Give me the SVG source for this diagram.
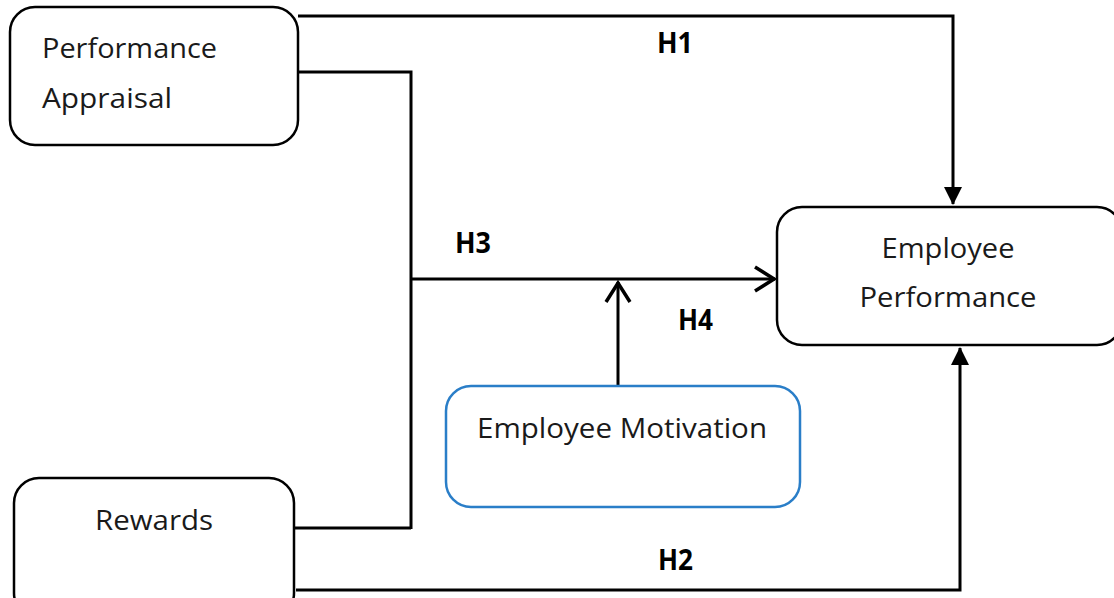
<svg xmlns="http://www.w3.org/2000/svg" width="1114" height="598" viewBox="0 0 1114 598">
<style>
.box{fill:#fff;stroke:#000;stroke-width:2.5}
.blue{fill:#fff;stroke:#2a7ec8;stroke-width:2.5}
.t{font-family:"Open Sans","Noto Sans",sans-serif;font-size:27px;fill:#1a1a1a}
.h{font-family:"Open Sans","Noto Sans",sans-serif;font-size:28px;font-weight:bold;fill:#000}
.ln{fill:none;stroke:#000;stroke-width:3}
</style>
<defs>
<marker id="fill" viewBox="0 0 18 18" refX="17" refY="9" markerWidth="18" markerHeight="18" markerUnits="userSpaceOnUse" orient="auto">
<path d="M0,0 L18,9 L0,18 Z" fill="#000"/>
</marker>
<marker id="open" viewBox="0 0 24 28" refX="22" refY="14" markerWidth="24" markerHeight="28" markerUnits="userSpaceOnUse" orient="auto">
<path d="M2,2 L21,14 L2,26" fill="none" stroke="#000" stroke-width="3.5"/>
</marker>
</defs>
<g id="connectors">
<polyline class="ln" points="298,16 953,16 953,204" marker-end="url(#fill)"/>
<polyline class="ln" points="298,72 411,72 411,529"/>
<line class="ln" x1="294" y1="528" x2="411" y2="528"/>
<line class="ln" x1="411" y1="279" x2="775" y2="279" marker-end="url(#open)"/>
<line class="ln" x1="618" y1="385" x2="618" y2="282" marker-end="url(#open)"/>
<polyline class="ln" points="296,590 960,590 960,348" marker-end="url(#fill)"/>
</g>
<g id="performance-appraisal">
<rect class="box" x="10" y="7" width="288" height="138" rx="25"/>
<text class="t" x="42" y="58" textLength="175" lengthAdjust="spacingAndGlyphs">Performance</text>
<text class="t" x="42" y="108" textLength="130" lengthAdjust="spacingAndGlyphs">Appraisal</text>
</g>
<g id="employee-performance">
<rect class="box" x="777" y="207" width="345" height="138" rx="25"/>
<text class="t" x="948" y="258" text-anchor="middle" textLength="133" lengthAdjust="spacingAndGlyphs">Employee</text>
<text class="t" x="948" y="307" text-anchor="middle" textLength="177" lengthAdjust="spacingAndGlyphs">Performance</text>
</g>
<g id="employee-motivation">
<rect class="blue" x="446" y="386" width="354" height="121" rx="25"/>
<text class="t" x="622" y="438" text-anchor="middle" textLength="290" lengthAdjust="spacingAndGlyphs">Employee Motivation</text>
</g>
<g id="rewards">
<rect class="box" x="14" y="478" width="280" height="140" rx="25"/>
<text class="t" x="154" y="530" text-anchor="middle" textLength="118" lengthAdjust="spacingAndGlyphs">Rewards</text>
</g>
<g id="labels">
<text class="h" x="657" y="53" textLength="36" lengthAdjust="spacingAndGlyphs">H1</text>
<text class="h" x="658" y="570" textLength="35" lengthAdjust="spacingAndGlyphs">H2</text>
<text class="h" x="455" y="253" textLength="36" lengthAdjust="spacingAndGlyphs">H3</text>
<text class="h" x="678" y="330" textLength="35" lengthAdjust="spacingAndGlyphs">H4</text>
</g>
</svg>
